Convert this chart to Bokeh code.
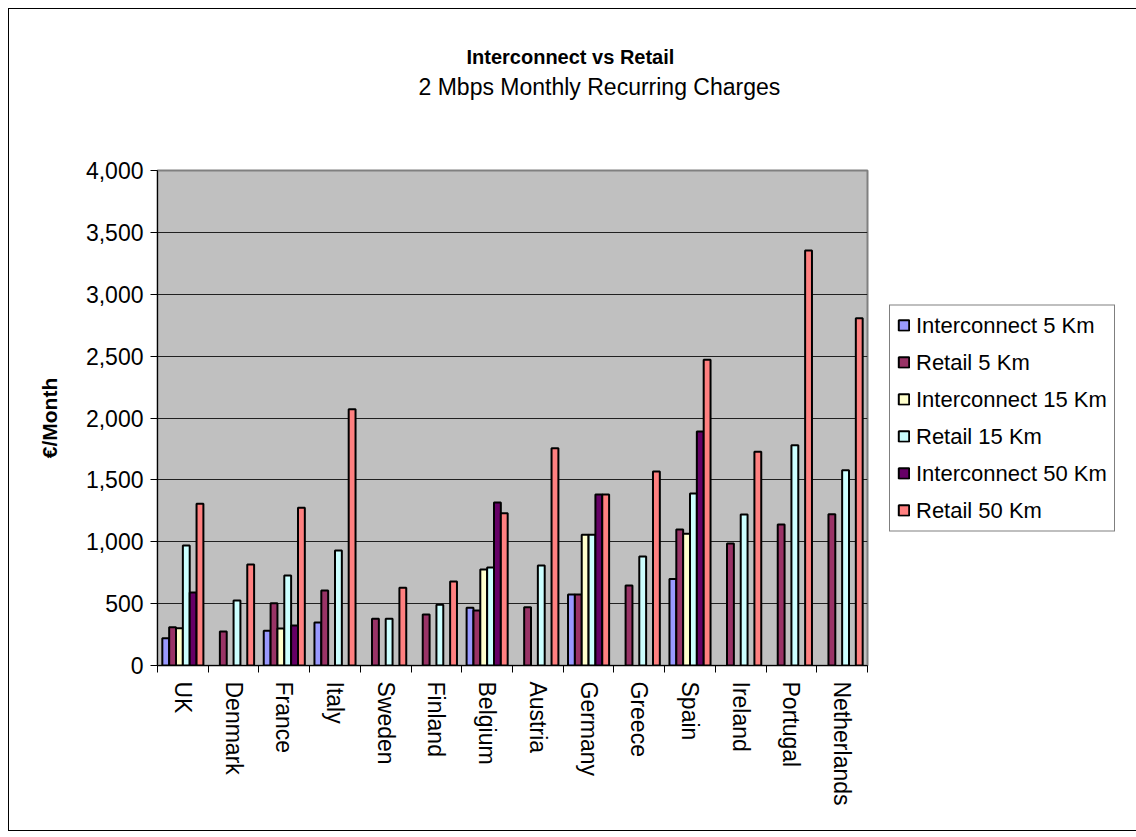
import numpy as np
from bokeh.plotting import figure
from bokeh.models import (ColumnDataSource, Range1d, FixedTicker, NumeralTickFormatter,
                          Legend, LegendItem, Title)
from bokeh.transform import dodge
from bokeh.embed import file_html
from bokeh.resources import INLINE

nan = float("nan")

countries = ["UK", "Denmark", "France", "Italy", "Sweden", "Finland", "Belgium",
             "Austria", "Germany", "Greece", "Spain", "Ireland", "Portugal", "Netherlands"]
interconnect_5 = [220, nan, 280, 347, nan, nan, 466, nan, 574, nan, 700, nan, nan, nan]
retail_5 = [310, 275, 504, 606, 377, 412, 444, 471, 574, 646, 1099, 985, 1140, 1223]
interconnect_15 = [302, nan, 299, nan, nan, nan, 776, nan, 1056, nan, 1064, nan, nan, nan]
retail_15 = [970, 525, 727, 929, 377, 490, 792, 808, 1056, 881, 1390, 1220, 1780, 1578]
interconnect_50 = [590, nan, 323, nan, nan, nan, 1317, nan, 1382, nan, 1891, nan, nan, nan]
retail_50 = [1307, 816, 1274, 2071, 628, 679, 1231, 1756, 1382, 1568, 2470, 1728, 3353, 2807]

series_names = ["Interconnect 5 Km", "Retail 5 Km", "Interconnect 15 Km",
                "Retail 15 Km", "Interconnect 50 Km", "Retail 50 Km"]
series_values = [interconnect_5, retail_5, interconnect_15, retail_15, interconnect_50, retail_50]
series_colors = ["#9999FF", "#993366", "#FFFFCC", "#CCFFFF", "#660066", "#FF8080"]
y_ticks = [0, 500, 1000, 1500, 2000, 2500, 3000, 3500, 4000]

title_text = "Interconnect vs Retail"
subtitle_text = "2 Mbps Monthly Recurring Charges"
y_label = "€/Month"

FONT = "Liberation Sans"
n = len(countries)
centers = np.arange(n) + 0.5

data = {"x": centers}
keys = []
for i, vals in enumerate(series_values):
    k = f"s{i}"
    keys.append(k)
    data[k] = np.array(vals, dtype=float)
src = ColumnDataSource(data)

p = figure(frame_width=710, frame_height=495, output_backend="svg", toolbar_location=None,
           x_range=Range1d(0, n), y_range=Range1d(0, 4000),
           min_border_left=148, min_border_right=268, min_border_top=161,
           min_border_bottom=165, title=None)
p.styles = {"border": "1px solid black", "margin-left": "8px", "margin-top": "8px"}

p.background_fill_color = "#C0C0C0"
p.border_fill_color = "white"
p.outline_line_color = "#808080"
p.outline_line_width = 2

bw = 0.135
renderers = []
for i, k in enumerate(keys):
    off = (i - 2.5) * bw
    r = p.vbar(x=dodge("x", off), top=k, width=bw, bottom=0, source=src,
               fill_color=series_colors[i], line_color="black", line_width=2)
    renderers.append(r)

# grid
p.xgrid.grid_line_color = None
p.ygrid.grid_line_color = "#202020"
p.ygrid.grid_line_width = 1
p.ygrid.ticker = FixedTicker(ticks=y_ticks)

# y axis
p.yaxis.ticker = FixedTicker(ticks=y_ticks)
p.yaxis.formatter = NumeralTickFormatter(format="0,0")
p.yaxis.major_tick_out = 7
p.yaxis.major_tick_in = 0
p.yaxis.minor_tick_line_color = None
p.yaxis.axis_line_color = "black"
p.yaxis.major_tick_line_color = "black"
p.yaxis.major_label_text_font = FONT
p.yaxis.major_label_text_font_size = "23px"
p.yaxis.major_label_text_color = "black"
p.yaxis.major_label_standoff = 7
p.yaxis.axis_label = y_label
p.yaxis.axis_label_text_font = FONT
p.yaxis.axis_label_text_font_size = "21px"
p.yaxis.axis_label_text_font_style = "bold"
p.yaxis.axis_label_text_color = "black"
p.yaxis.axis_label_standoff = 22

# x axis
p.xaxis.ticker = FixedTicker(ticks=list(centers), minor_ticks=list(range(n + 1)))
p.xaxis.major_label_overrides = {float(c): name for c, name in zip(centers, countries)}
p.xaxis.major_tick_line_color = None
p.xaxis.major_tick_out = 0
p.xaxis.major_tick_in = 0
p.xaxis.minor_tick_out = 7
p.xaxis.minor_tick_in = 0
p.xaxis.minor_tick_line_color = "black"
p.xaxis.axis_line_color = "black"
p.xaxis.major_label_orientation = "vertical"
p.xaxis.major_label_text_font = FONT
p.xaxis.major_label_text_font_size = "23px"
p.xaxis.major_label_text_color = "black"
p.xaxis.major_label_standoff = 9

# titles: spacer nearest the plot, then subtitle, then title
p.add_layout(Title(text=" ", standoff=56, text_font=FONT, text_font_size="10px"), "above")
p.add_layout(Title(text=subtitle_text, align="left", offset=261, standoff=4,
                   text_font=FONT, text_font_size="23px", text_font_style="normal",
                   text_color="black"), "above")
p.add_layout(Title(text=title_text, align="left", offset=309, standoff=4,
                   text_font=FONT, text_font_size="20px", text_font_style="bold",
                   text_color="black"), "above")

legend = Legend(items=[LegendItem(label=nm, renderers=[r]) for nm, r in zip(series_names, renderers)],
                location="center_left")
legend.label_text_font = FONT
legend.label_text_font_size = "22px"
legend.label_text_color = "black"
legend.glyph_width = 13
legend.glyph_height = 13
legend.label_standoff = 6
legend.label_height = 25
legend.spacing = 11
legend.padding = 7
legend.margin = 22
legend.border_line_color = "black"
legend.border_line_width = 1
legend.background_fill_color = "white"
legend.background_fill_alpha = 1
p.add_layout(legend, "right")

open("out.html", "w").write(file_html(p, INLINE))
